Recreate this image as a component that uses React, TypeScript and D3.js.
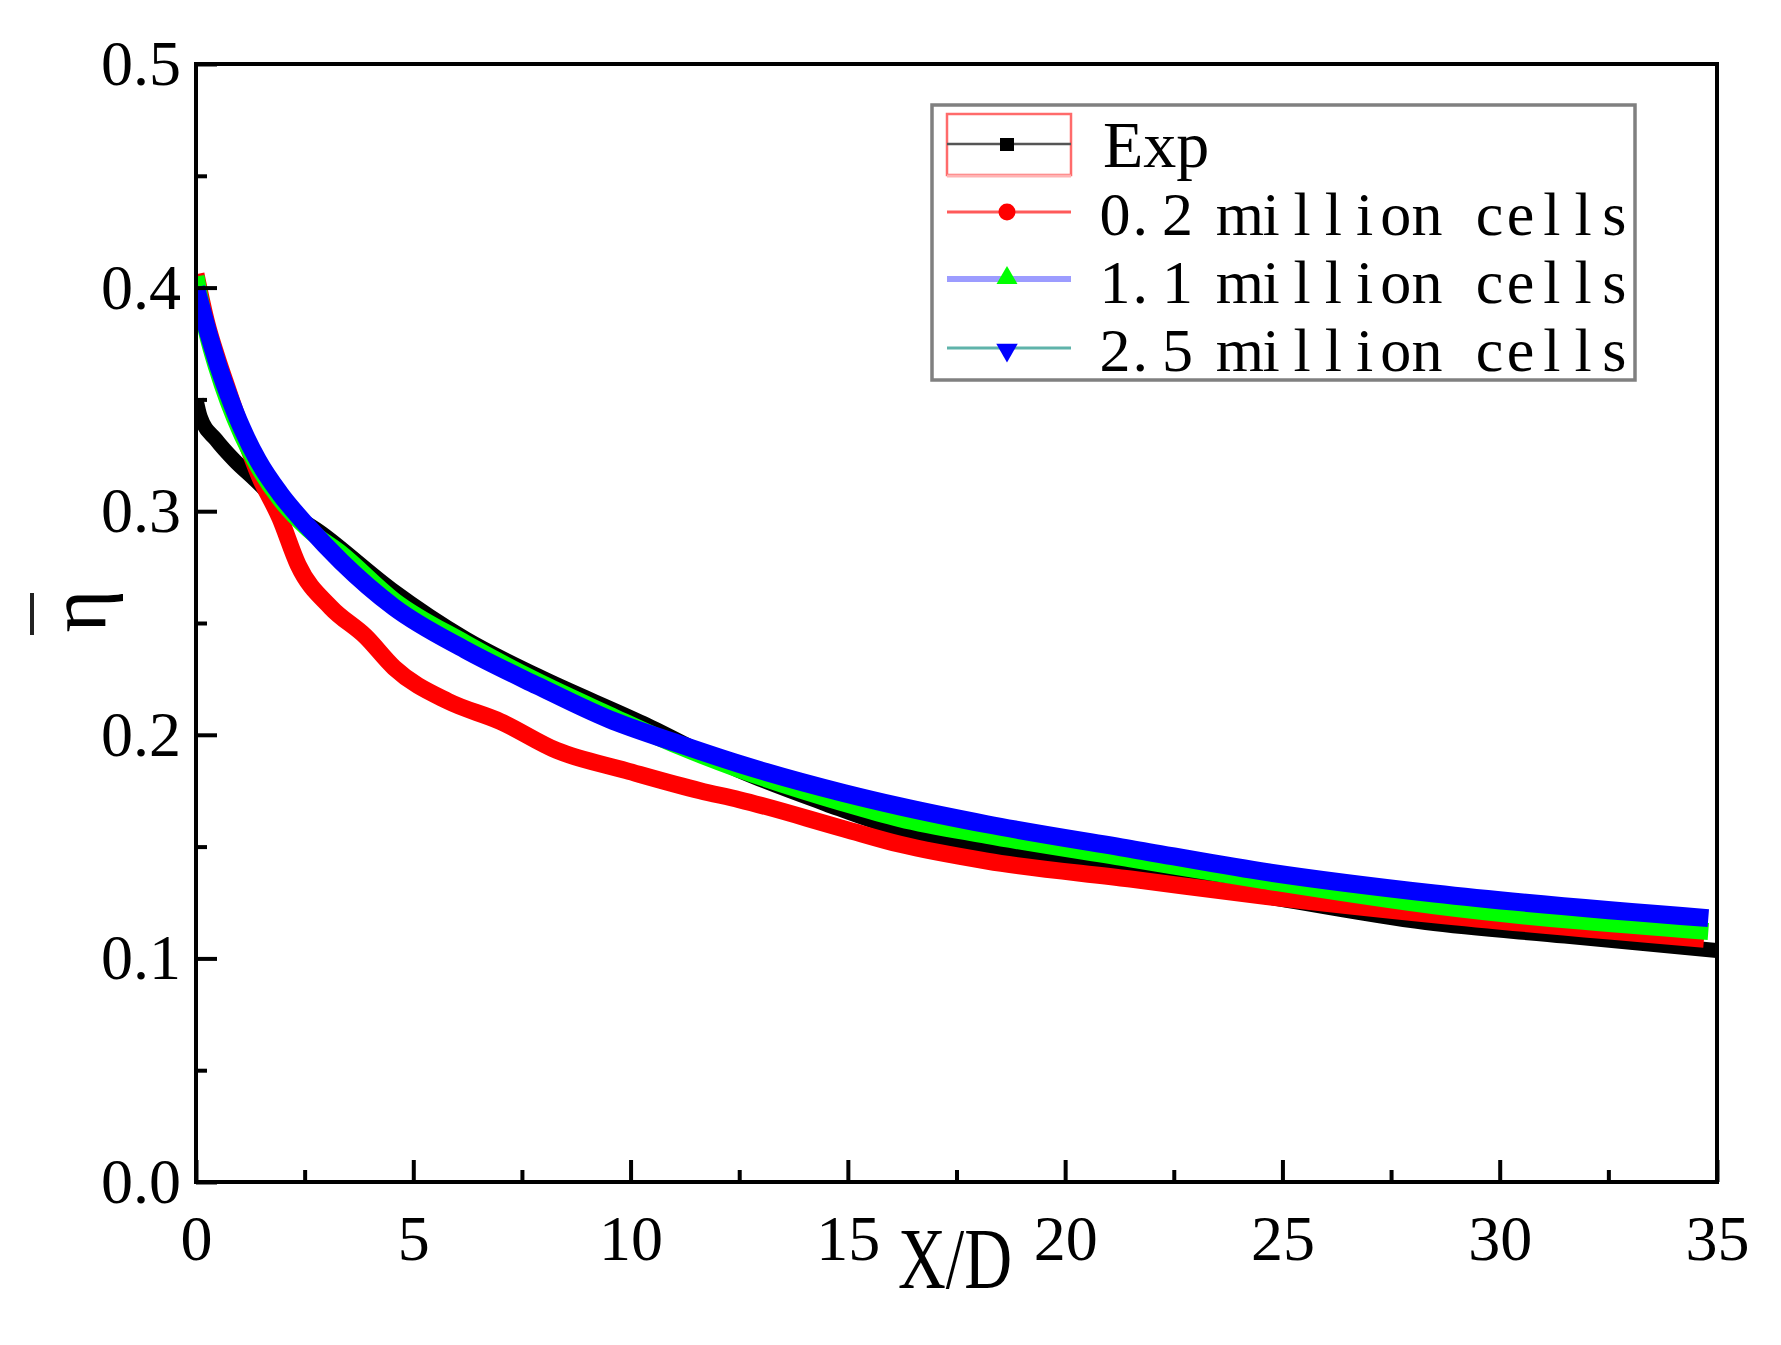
import { useEffect, useRef } from "react";
import * as d3 from "d3";

const W = 1781;
const H = 1345;

// series (x = X/D, y = mean effectiveness)
const expX = [0, 0.1, 0.46, 0.87, 1.36, 2.0, 2.9, 4.5, 6.2, 7.85, 10.3, 12.5, 14.5, 16.2, 18.2, 21.5, 24.5, 28.3, 31.5, 35];
const expY = [0.35, 0.342, 0.332, 0.323, 0.314, 0.302, 0.29, 0.265, 0.243, 0.2265, 0.205, 0.184, 0.169, 0.1575, 0.1485, 0.138, 0.128, 0.116, 0.11, 0.1035];

const m02X = [0, 0.25, 0.48, 0.74, 1.06, 1.45, 1.93, 2.35, 3.1, 3.9, 4.56, 5.8, 7.0, 8.3, 9.9, 11.6, 12.5, 14.9, 16.2, 18.2, 21.5, 24.5, 28.5, 34.7];
const m02Y = [0.406, 0.384, 0.369, 0.354, 0.336, 0.316, 0.297, 0.276, 0.257, 0.244, 0.23, 0.215, 0.206, 0.193, 0.184, 0.175, 0.171, 0.158, 0.151, 0.1435, 0.1355, 0.128, 0.1195, 0.1086];

const m11X = [0, 0.25, 0.48, 0.74, 1.06, 1.43, 1.93, 2.58, 3.34, 4.56, 6.2, 7.85, 9.5, 11.1, 12.5, 14.9, 16.2, 18.2, 21.5, 24.5, 28.5, 34.8];
const m11Y = [0.405, 0.38, 0.364, 0.349, 0.334, 0.32, 0.3055, 0.292, 0.281, 0.26, 0.241, 0.224, 0.209, 0.195, 0.1845, 0.1695, 0.1625, 0.155, 0.1445, 0.135, 0.1235, 0.112];

const m25X = [0, 0.25, 0.48, 0.74, 1.06, 1.43, 1.93, 2.58, 3.34, 4.56, 6.2, 7.85, 9.5, 11.1, 12.5, 14.9, 16.2, 18.2, 21.5, 24.5, 28.5, 34.8];
const m25Y = [0.4, 0.382, 0.367, 0.3525, 0.337, 0.3226, 0.308, 0.293, 0.2775, 0.257, 0.238, 0.222, 0.207, 0.196, 0.187, 0.174, 0.168, 0.16, 0.149, 0.139, 0.129, 0.118];

const legendLabels = ["Exp", "0.2 million cells", "1.1 million cells", "2.5 million cells"];

const xTicks = [0, 5, 10, 15, 20, 25, 30, 35];
const yTicks = [0, 0.1, 0.2, 0.3, 0.4, 0.5];

export default function App() {
    const svgRef = useRef<SVGSVGElement>(null);

    useEffect(() => {
        if (!svgRef.current) return;
        document.body.style.margin = "0";

        const svg = d3.select(svgRef.current);
        svg.selectAll("*").remove();

        const left = 196, right = 1717, top = 64, bottom = 1182;
        const x = d3.scaleLinear().domain([0, 35]).range([left, right]);
        const y = d3.scaleLinear().domain([0, 0.5]).range([bottom, top]);
        const serif = "'Liberation Serif', 'Times New Roman', serif";

        svg.append("rect").attr("width", W).attr("height", H).attr("fill", "#fff");

        svg.append("defs")
            .append("clipPath")
            .attr("id", "plot-clip")
            .append("rect")
            .attr("x", left)
            .attr("y", top)
            .attr("width", right - left)
            .attr("height", bottom - top);

        const series = [
            { xs: expX, ys: expY, color: "#000000", width: 15 },
            { xs: m02X, ys: m02Y, color: "#ff0000", width: 17 },
            { xs: m11X, ys: m11Y, color: "#00ff00", width: 17 },
            { xs: m25X, ys: m25Y, color: "#0000ff", width: 18 },
        ];

        const line = d3
            .line<[number, number]>()
            .x((d) => x(d[0]))
            .y((d) => y(d[1]))
            .curve(d3.curveMonotoneX);

        const curves = svg.append("g").attr("clip-path", "url(#plot-clip)");
        series.forEach((s) => {
            const pts = s.xs.map((v, i) => [v, s.ys[i]] as [number, number]);
            curves
                .append("path")
                .attr("d", line(pts))
                .attr("fill", "none")
                .attr("stroke", s.color)
                .attr("stroke-width", s.width)
                .attr("stroke-linejoin", "round");
        });

        // minor ticks halfway between the majors
        const xMinor = xTicks.slice(1).map((t) => t - 2.5);
        const yMinor = yTicks.slice(1).map((t) => t - 0.05);

        const styleAxis = (g: d3.Selection<SVGGElement, unknown, null, undefined>) => {
            g.select(".domain").remove();
            g.attr("font-family", serif).attr("font-size", 64);
            g.selectAll("line").attr("stroke", "#000").attr("stroke-width", 4);
            g.selectAll("text").attr("fill", "#000");
        };

        svg.append("g")
            .attr("transform", `translate(${left},0)`)
            .call(d3.axisLeft(y).tickValues(yTicks).tickSizeInner(-21).tickSizeOuter(0).tickPadding(15).tickFormat(d3.format(".1f")))
            .call(styleAxis);
        svg.append("g")
            .attr("transform", `translate(${left},0)`)
            .call(d3.axisLeft(y).tickValues(yMinor).tickSizeInner(-11).tickSizeOuter(0).tickFormat(() => ""))
            .call(styleAxis);
        svg.append("g")
            .attr("transform", `translate(0,${bottom})`)
            .call(d3.axisBottom(x).tickValues(xTicks).tickSizeInner(-22).tickSizeOuter(0).tickPadding(33).tickFormat(d3.format("d")))
            .call(styleAxis);
        svg.append("g")
            .attr("transform", `translate(0,${bottom})`)
            .call(d3.axisBottom(x).tickValues(xMinor).tickSizeInner(-12).tickSizeOuter(0).tickFormat(() => ""))
            .call(styleAxis);

        svg.append("rect")
            .attr("x", left)
            .attr("y", top)
            .attr("width", right - left)
            .attr("height", bottom - top)
            .attr("fill", "none")
            .attr("stroke", "#000")
            .attr("stroke-width", 4);

        // axis titles
        svg.append("text")
            .attr("transform", "translate(898,1288) scale(0.77,1)")
            .attr("font-family", serif)
            .attr("font-size", 86)
            .text("X/D");

        svg.append("text")
            .attr("transform", "translate(105,611) rotate(-90)")
            .attr("text-anchor", "middle")
            .attr("font-family", serif)
            .attr("font-size", 82)
            .text("η");
        svg.append("line")
            .attr("x1", 32)
            .attr("x2", 32)
            .attr("y1", 593)
            .attr("y2", 635)
            .attr("stroke", "#222")
            .attr("stroke-width", 4);

        // legend
        const lg = svg.append("g");
        lg.append("rect")
            .attr("x", 932)
            .attr("y", 105)
            .attr("width", 703)
            .attr("height", 275)
            .attr("fill", "#fff")
            .attr("stroke", "#808080")
            .attr("stroke-width", 3.5);
        lg.append("rect")
            .attr("x", 947)
            .attr("y", 114)
            .attr("width", 124)
            .attr("height", 61)
            .attr("fill", "none")
            .attr("stroke", "#ff6b6b")
            .attr("stroke-width", 2.5);
        lg.append("line")
            .attr("x1", 947)
            .attr("x2", 1071)
            .attr("y1", 176)
            .attr("y2", 176)
            .attr("stroke", "#ffb4b4")
            .attr("stroke-width", 3);

        const rowY = [144, 212, 279, 348];
        const lineStyles = [
            { color: "#555555", width: 2.5 },
            { color: "#ff5a5a", width: 3 },
            { color: "#9c9cff", width: 6 },
            { color: "#5fb3aa", width: 3 },
        ];
        rowY.forEach((ry, i) => {
            lg.append("line")
                .attr("x1", 947)
                .attr("x2", 1071)
                .attr("y1", ry)
                .attr("y2", ry)
                .attr("stroke", lineStyles[i].color)
                .attr("stroke-width", lineStyles[i].width);
        });
        const mx = 1007;
        lg.append("rect").attr("x", mx - 7).attr("y", rowY[0] - 6).attr("width", 14).attr("height", 13).attr("fill", "#000");
        lg.append("circle").attr("cx", mx).attr("cy", rowY[1]).attr("r", 8.5).attr("fill", "#ff0000");
        lg.append("path")
            .attr("d", d3.symbol(d3.symbolTriangle, 190)())
            .attr("transform", `translate(${mx},${rowY[2] - 1})`)
            .attr("fill", "#00ff00");
        lg.append("path")
            .attr("d", d3.symbol(d3.symbolTriangle, 200)())
            .attr("transform", `translate(${mx},${rowY[3] + 2}) rotate(180)`)
            .attr("fill", "#0000ff");

        const textY = [167, 235, 303, 371];
        lg.append("text")
            .attr("x", 1103)
            .attr("y", textY[0])
            .attr("font-family", serif)
            .attr("font-size", 66)
            .text(legendLabels[0]);

        // the other rows are set in a fixed pitch, one cell per character
        // (the full stop sits at the left of its cell)
        const pitch = 31.2;
        legendLabels.slice(1).forEach((label, i) => {
            const xs = Array.from(label).map((c, k) => (1115 + k * pitch - (c === "." ? 6 : 0)).toFixed(1));
            lg.append("text")
                .attr("x", xs.join(" "))
                .attr("y", textY[i + 1])
                .attr("text-anchor", "middle")
                .attr("font-family", serif)
                .attr("font-size", 62)
                .text(label);
        });
    }, []);

    return <svg ref={svgRef} width={W} height={H} style={{ display: "block" }} />;
}
